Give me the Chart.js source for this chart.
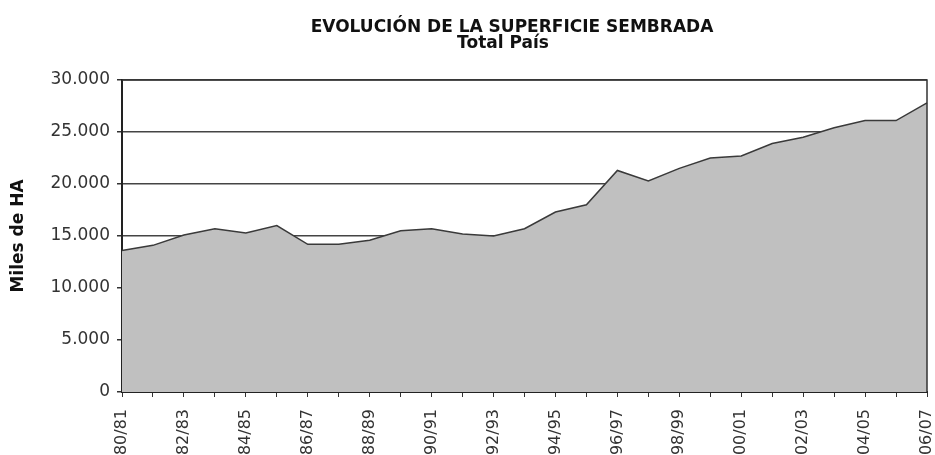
<!DOCTYPE html>
<html>
<head>
<meta charset="utf-8">
<script src="https://cdn.jsdelivr.net/npm/chart.js@4.4.0/dist/chart.umd.min.js"></script>
<style>
  html, body { margin: 0; padding: 0; background: #fff; }
  #wrap { width: 935px; height: 455px; }
</style>
</head>
<body>
<div id="wrap"><canvas id="myChart" width="935" height="455"></canvas></div>
<script>
// Campañas (eje X)
const seasons = [
  "80/81", "81/82", "82/83", "83/84", "84/85", "85/86", "86/87", "87/88", "88/89",
  "89/90", "90/91", "91/92", "92/93", "93/94", "94/95", "95/96", "96/97", "97/98",
  "98/99", "99/00", "00/01", "01/02", "02/03", "03/04", "04/05", "05/06", "06/07"
];
// Superficie sembrada, miles de HA
const sownArea = [
  13600, 14100, 15100, 15700, 15300, 16000, 14200, 14200, 14600,
  15500, 15700, 15200, 15000, 15700, 17300, 18000, 21300, 20300,
  21500, 22500, 22700, 23900, 24500, 25400, 26100, 26100, 27800
];
const yTicks = [0, 5000, 10000, 15000, 20000, 25000, 30000];

const titleLines = ["EVOLUCIÓN DE LA SUPERFICIE SEMBRADA", "Total País"];
const yTitle = "Miles de HA";

// thousand separator with dot
function fmt(v) {
  return v.toString().replace(/\B(?=(\d{3})+(?!\d))/g, ".");
}

// two line title, a bit left of the plot centre like the original
const heading = {
  id: "heading",
  afterDraw(chart) {
    const c = chart.ctx;
    c.save();
    c.fillStyle = "#111";
    c.font = "bold 17px 'DejaVu Sans'";
    c.textAlign = "center";
    c.textBaseline = "alphabetic";
    c.fillText(titleLines[0], 512, 32);
    c.fillText(titleLines[1], 503, 48);
    c.restore();
  }
};

// box round the plot area (top and right side)
const frame = {
  id: "frame",
  afterDatasetsDraw(chart) {
    const a = chart.chartArea, c = chart.ctx;
    c.save();
    c.strokeStyle = "#333";
    c.lineWidth = 1.5;
    c.beginPath();
    c.moveTo(a.left, a.top);
    c.lineTo(a.right, a.top);
    c.lineTo(a.right, a.bottom);
    c.stroke();
    c.restore();
  }
};

const ctx = document.getElementById("myChart").getContext("2d");
const myChart = new Chart(ctx, {
  type: "line",
  data: {
    labels: seasons,
    datasets: [{
      data: sownArea,
      fill: "origin",
      backgroundColor: "#c0c0c0",
      borderColor: "#3a3a3a",
      borderWidth: 1.5,
      pointRadius: 0,
      tension: 0
    }]
  },
  options: {
    responsive: false,
    animation: false,
    layout: { padding: { left: 0, right: 8, bottom: 0, top: 80 } },
    plugins: {
      legend: { display: false },
      tooltip: { enabled: false },
      title: { display: false }
    },
    scales: {
      x: {
        offset: false,
        afterFit: function (scale) {
          scale.height = 63;
          scale.paddingLeft = 0;
          scale.paddingRight = 0;
        },
        grid: {
          display: true,
          drawOnChartArea: false,
          drawTicks: true,
          tickLength: 5,
          color: "#333",
          lineWidth: 1
        },
        border: { color: "#222", width: 2 },
        ticks: {
          autoSkip: false,
          minRotation: 90,
          maxRotation: 90,
          color: "#333",
          padding: 12,
          font: { family: "'DejaVu Sans'", size: 16 },
          callback: function (val, i) { return i % 2 === 0 ? seasons[i] : ""; }
        }
      },
      y: {
        min: 0,
        max: 30000,
        afterFit: function (scale) {
          scale.width = 122;
          scale.paddingTop = 0;
          scale.paddingBottom = 0;
        },
        afterBuildTicks: function (scale) {
          scale.ticks = yTicks.map(v => ({ value: v }));
        },
        grid: {
          color: "#444",
          lineWidth: 1.5,
          tickLength: 5,
          tickColor: "#333"
        },
        border: { color: "#222", width: 2 },
        ticks: {
          color: "#333",
          padding: 7,
          font: { family: "'DejaVu Sans'", size: 17 },
          callback: function (v) { return fmt(v); }
        },
        title: {
          display: true,
          text: yTitle,
          color: "#111",
          font: { family: "'DejaVu Sans'", size: 17, weight: "bold" },
          padding: { top: 8, bottom: 0 }
        }
      }
    }
  },
  plugins: [frame, heading]
});
</script>
</body>
</html>
